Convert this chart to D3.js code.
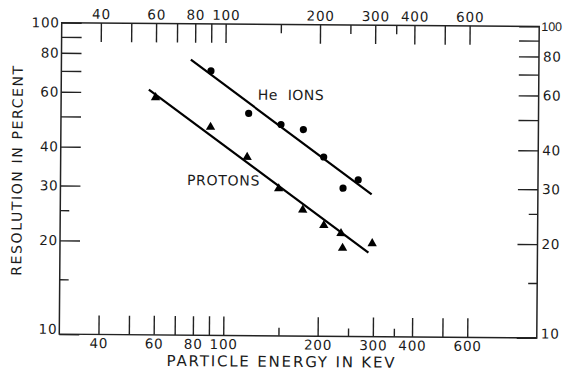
<!DOCTYPE html>
<html>
<head>
<meta charset="utf-8">
<script src="https://cdnjs.cloudflare.com/ajax/libs/d3/7.8.5/d3.min.js"></script>
<style>
body { margin: 0; background: #fff; }
text { font-family: "DejaVu Sans", sans-serif; fill: #1a1a1a; }
</style>
</head>
<body>
<script>
//Width and height
var w = 564;
var h = 372;

//Plot box edges
var boxLeft = 60.5, boxRight = 538, boxTop = 24.5, boxBottom = 336;

//Energy axis ticks (keV)
var xLabelTicks = [40, 60, 80, 100, 200, 300, 400, 600];
var xLongTicks = [40, 50, 60, 70, 80, 90, 100, 200, 300, 400, 500, 600];
var xShortTicks = [150, 250, 350];

//Resolution axis ticks (percent)
var yLabelTicks = [10, 20, 30, 40, 60, 80, 100];
var yLongTicks = [10, 20, 30, 40, 50, 60, 70, 80, 90, 100];
var yShortTicks = [15, 25];

//He ion points
var heEnergy = [90, 119, 151, 178, 207, 239, 267];
var heResolution = [70.6, 51.7, 47.7, 46, 37.6, 29.9, 31.8];

//Proton points
var protonEnergy = [60, 90, 118, 149, 178, 208, 236, 239, 297];
var protonResolution = [57.8, 46.6, 37.4, 29.7, 25.4, 22.7, 21.4, 19.2, 19.9];

//Fitted lines (two ends each)
var heLineEnergy = [77.6, 295];
var heLineResolution = [76.6, 28.6];
var protonLineEnergy = [57.1, 289];
var protonLineResolution = [61.3, 18.6];

//Scales
var xScale = d3.scaleLog().domain([30, 1000]).range([boxLeft, boxRight]);
var yScale = d3.scaleLog().domain([10, 100]).range([boxBottom, boxTop]);

var svg = d3.select("body")
  .append("svg")
  .attr("width", w)
  .attr("height", h);

svg.append("rect").attr("width", w).attr("height", h).attr("fill", "#fff");

//The scan is a little tilted
var g = svg.append("g").attr("transform", "rotate(0.45,299,180)");

var labelFmt = function(list) {
  return function(d) { return list.indexOf(d) >= 0 ? d : ""; };
};

//Helper to draw one axis and style it
function drawAxis(axis, tx, ty) {
  var a = g.append("g")
    .attr("transform", "translate(" + tx + "," + ty + ")")
    .call(axis);
  a.select(".domain").remove();
  a.selectAll("line").attr("stroke", "#222").attr("stroke-width", 1.4);
  a.selectAll("text")
    .attr("font-size", 13.5)
    .attr("letter-spacing", 0.8);
  return a;
}

//Energy axes, bottom and top
drawAxis(d3.axisBottom(xScale).tickValues(xLongTicks).tickSize(-19).tickPadding(4)
  .tickFormat(labelFmt(xLabelTicks)), 0, boxBottom);
drawAxis(d3.axisBottom(xScale).tickValues(xShortTicks).tickSize(-8).tickFormat(""), 0, boxBottom);
drawAxis(d3.axisTop(xScale).tickValues(xLongTicks).tickSize(-19).tickPadding(4)
  .tickFormat(labelFmt(xLabelTicks)), 0, boxTop);
drawAxis(d3.axisTop(xScale).tickValues(xShortTicks).tickSize(-9).tickFormat(""), 0, boxTop);

//Resolution axes, left and right
var leftAx = drawAxis(d3.axisLeft(yScale).tickValues(yLongTicks).tickSize(-20).tickPadding(2)
  .tickFormat(labelFmt(yLabelTicks)), boxLeft, 0);
drawAxis(d3.axisLeft(yScale).tickValues(yShortTicks).tickSize(-9).tickFormat(""), boxLeft, 0);
var rightAx = drawAxis(d3.axisRight(yScale).tickValues(yLongTicks).tickSize(-20).tickPadding(4)
  .tickFormat(labelFmt(yLabelTicks)), boxRight, 0);
drawAxis(d3.axisRight(yScale).tickValues(yShortTicks).tickSize(-9).tickFormat(""), boxRight, 0);

//"10" sits a bit above its tick
leftAx.selectAll(".tick").filter(function(d) { return d === 10; }).select("text").attr("dy", "-0.05em");
rightAx.selectAll(".tick").filter(function(d) { return d === 10; }).select("text").attr("dy", "0em");

//Right "100" is squeezed against the page edge: narrower digits
rightAx.selectAll(".tick").filter(function(d) { return d === 100; }).select("text")
  .style("font-family", "'Liberation Sans', sans-serif")
  .attr("letter-spacing", 0)
  .attr("font-size", 12.5)
  .attr("dx", -2);

//Frame
g.append("rect")
  .attr("x", boxLeft).attr("y", boxTop)
  .attr("width", boxRight - boxLeft).attr("height", boxBottom - boxTop)
  .attr("fill", "none").attr("stroke", "#222").attr("stroke-width", 1.5);

//Fitted lines
var line = d3.line()
  .x(function(d) { return xScale(d[0]); })
  .y(function(d) { return yScale(d[1]); });

g.append("path")
  .datum(d3.zip(heLineEnergy, heLineResolution))
  .attr("d", line).attr("fill", "none").attr("stroke", "#000").attr("stroke-width", 2.2);
g.append("path")
  .datum(d3.zip(protonLineEnergy, protonLineResolution))
  .attr("d", line).attr("fill", "none").attr("stroke", "#000").attr("stroke-width", 2.2);

//He ion dots
g.selectAll(".he")
  .data(d3.zip(heEnergy, heResolution))
  .enter().append("circle")
  .attr("class", "he")
  .attr("cx", function(d) { return xScale(d[0]); })
  .attr("cy", function(d) { return yScale(d[1]); })
  .attr("r", 3.6)
  .attr("fill", "#000");

//Proton triangles
g.selectAll(".proton")
  .data(d3.zip(protonEnergy, protonResolution))
  .enter().append("path")
  .attr("class", "proton")
  .attr("d", d3.symbol().type(d3.symbolTriangle).size(38))
  .attr("transform", function(d) { return "translate(" + xScale(d[0]) + "," + yScale(d[1]) + ")"; })
  .attr("fill", "#000");

//Series labels
g.append("text").attr("x", 257).attr("y", 100)
  .attr("font-size", 14).attr("word-spacing", 5).attr("letter-spacing", 0.5)
  .text("He IONS");
g.append("text").attr("x", 187).attr("y", 186)
  .attr("font-size", 14).attr("letter-spacing", 0.7)
  .text("PROTONS");

//Axis titles
g.append("text").attr("x", 168).attr("y", 367)
  .attr("font-size", 15)
  .attr("textLength", 228).attr("lengthAdjust", "spacing")
  .text("PARTICLE ENERGY IN KEV");
g.append("text")
  .attr("transform", "translate(22,278) rotate(-90)")
  .attr("font-size", 14)
  .attr("textLength", 210).attr("lengthAdjust", "spacing")
  .text("RESOLUTION IN PERCENT");
</script>
</body>
</html>
